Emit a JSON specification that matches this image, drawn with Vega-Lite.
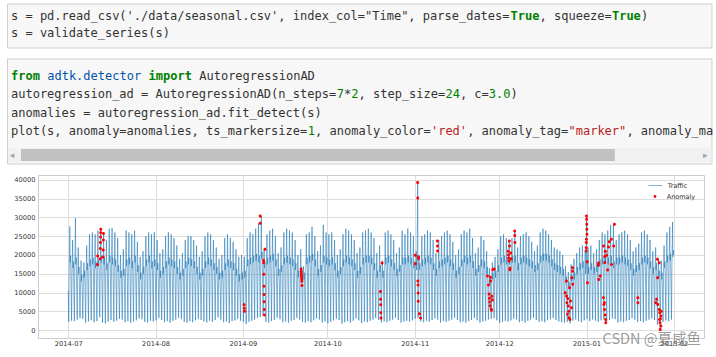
{
"$schema":"https://vega.github.io/schema/vega-lite/v6.json",
"background":"white",
"padding":{"left":6,"top":3,"right":0,"bottom":0},
"spacing":9,
"config":{"font":"DejaVu Sans","view":{"stroke":null}},
"resolve":{"scale":{"x":"independent","y":"independent","color":"independent","shape":"independent"}},
"datasets":{
"box":[{"part":"cell"}],
"cell1":[
{"ln":1,"col":0,"tok":"s = pd.read_csv('./data/seasonal.csv', index_col=\"Time\", parse_dates=","k":"plain"},
{"ln":1,"col":69,"tok":"True","k":"kw"},
{"ln":1,"col":73,"tok":", squeeze=","k":"plain"},
{"ln":1,"col":83,"tok":"True","k":"kw"},
{"ln":1,"col":87,"tok":")","k":"plain"},
{"ln":2,"col":0,"tok":"s = validate_series(s)","k":"plain"}],
"cell2":[
{"ln":1,"col":0,"tok":"from","k":"kw"},
{"ln":1,"col":5,"tok":"adtk.detector","k":"mod"},
{"ln":1,"col":19,"tok":"import","k":"kw"},
{"ln":1,"col":26,"tok":"AutoregressionAD","k":"plain"},
{"ln":2,"col":0,"tok":"autoregression_ad = AutoregressionAD(n_steps=","k":"plain"},
{"ln":2,"col":45,"tok":"7","k":"num"},
{"ln":2,"col":46,"tok":"*","k":"plain"},
{"ln":2,"col":47,"tok":"2","k":"num"},
{"ln":2,"col":48,"tok":", step_size=","k":"plain"},
{"ln":2,"col":60,"tok":"24","k":"num"},
{"ln":2,"col":62,"tok":", c=","k":"plain"},
{"ln":2,"col":66,"tok":"3.0","k":"num"},
{"ln":2,"col":69,"tok":")","k":"plain"},
{"ln":3,"col":0,"tok":"anomalies = autoregression_ad.fit_detect(s)","k":"plain"},
{"ln":4,"col":0,"tok":"plot(s, anomaly=anomalies, ts_markersize=","k":"plain"},
{"ln":4,"col":41,"tok":"1","k":"num"},
{"ln":4,"col":42,"tok":", anomaly_color=","k":"plain"},
{"ln":4,"col":58,"tok":"'red'","k":"str"},
{"ln":4,"col":63,"tok":", anomaly_tag=","k":"plain"},
{"ln":4,"col":77,"tok":"\"marker\"","k":"str"},
{"ln":4,"col":85,"tok":", anomaly_ma","k":"plain"}],
"traffic":[
{"t":"2014-07-01T00:00","v":10500},
{"t":"2014-07-01T04:00","v":2200},{"t":"2014-07-01T08:00","v":16500},{"t":"2014-07-01T10:00","v":20000},{"t":"2014-07-01T13:00","v":27600},{"t":"2014-07-01T16:00","v":18000},{"t":"2014-07-01T20:00","v":19800},
{"t":"2014-07-02T04:00","v":2500},{"t":"2014-07-02T08:00","v":15000},{"t":"2014-07-02T10:00","v":18500},{"t":"2014-07-02T13:00","v":24000},{"t":"2014-07-02T16:00","v":16500},{"t":"2014-07-02T20:00","v":18300},
{"t":"2014-07-03T04:00","v":2400},{"t":"2014-07-03T08:00","v":17500},{"t":"2014-07-03T10:00","v":21000},{"t":"2014-07-03T13:00","v":29800},{"t":"2014-07-03T16:00","v":17500},{"t":"2014-07-03T20:00","v":19300},
{"t":"2014-07-04T04:00","v":2800},{"t":"2014-07-04T08:00","v":13000},{"t":"2014-07-04T10:00","v":16500},{"t":"2014-07-04T13:00","v":22000},{"t":"2014-07-04T16:00","v":15000},{"t":"2014-07-04T20:00","v":16800},
{"t":"2014-07-05T04:00","v":3200},{"t":"2014-07-05T08:00","v":11500},{"t":"2014-07-05T10:00","v":15000},{"t":"2014-07-05T13:00","v":18500},{"t":"2014-07-05T16:00","v":13000},{"t":"2014-07-05T20:00","v":14800},
{"t":"2014-07-06T04:00","v":3000},{"t":"2014-07-06T08:00","v":12000},{"t":"2014-07-06T10:00","v":15500},{"t":"2014-07-06T13:00","v":18000},{"t":"2014-07-06T16:00","v":14000},{"t":"2014-07-06T20:00","v":15800},
{"t":"2014-07-07T04:00","v":2000},{"t":"2014-07-07T08:00","v":14500},{"t":"2014-07-07T10:00","v":18000},{"t":"2014-07-07T13:00","v":22500},{"t":"2014-07-07T16:00","v":16000},{"t":"2014-07-07T20:00","v":17800},
{"t":"2014-07-08T04:00","v":2300},{"t":"2014-07-08T08:00","v":16000},{"t":"2014-07-08T10:00","v":19500},{"t":"2014-07-08T13:00","v":25500},{"t":"2014-07-08T16:00","v":17000},{"t":"2014-07-08T20:00","v":18800},
{"t":"2014-07-09T04:00","v":2600},{"t":"2014-07-09T08:00","v":17000},{"t":"2014-07-09T10:00","v":20500},{"t":"2014-07-09T13:00","v":26000},{"t":"2014-07-09T16:00","v":17500},{"t":"2014-07-09T20:00","v":19300},
{"t":"2014-07-10T04:00","v":2100},{"t":"2014-07-10T08:00","v":15500},{"t":"2014-07-10T10:00","v":19000},{"t":"2014-07-10T13:00","v":25500},{"t":"2014-07-10T16:00","v":16500},{"t":"2014-07-10T20:00","v":18300},
{"t":"2014-07-11T04:00","v":2400},{"t":"2014-07-11T08:00","v":16000},{"t":"2014-07-11T10:00","v":19500},{"t":"2014-07-11T13:00","v":26500},{"t":"2014-07-11T16:00","v":17000},{"t":"2014-07-11T20:00","v":18800},
{"t":"2014-07-12T04:00","v":3400},{"t":"2014-07-12T08:00","v":15000},{"t":"2014-07-12T10:00","v":18500},{"t":"2014-07-12T13:00","v":27000},{"t":"2014-07-12T16:00","v":18000},{"t":"2014-07-12T20:00","v":19800},
{"t":"2014-07-13T04:00","v":2000},{"t":"2014-07-13T08:00","v":14000},{"t":"2014-07-13T10:00","v":17500},{"t":"2014-07-13T13:00","v":26000},{"t":"2014-07-13T16:00","v":17500},{"t":"2014-07-13T20:00","v":19300},
{"t":"2014-07-14T04:00","v":1800},{"t":"2014-07-14T08:00","v":15000},{"t":"2014-07-14T10:00","v":18500},{"t":"2014-07-14T13:00","v":24000},{"t":"2014-07-14T16:00","v":16000},{"t":"2014-07-14T20:00","v":17800},
{"t":"2014-07-15T04:00","v":2300},{"t":"2014-07-15T08:00","v":17000},{"t":"2014-07-15T10:00","v":20500},{"t":"2014-07-15T13:00","v":27000},{"t":"2014-07-15T16:00","v":18000},{"t":"2014-07-15T20:00","v":19800},
{"t":"2014-07-16T04:00","v":2700},{"t":"2014-07-16T08:00","v":16500},{"t":"2014-07-16T10:00","v":20000},{"t":"2014-07-16T13:00","v":27200},{"t":"2014-07-16T16:00","v":17500},{"t":"2014-07-16T20:00","v":19300},
{"t":"2014-07-17T04:00","v":2200},{"t":"2014-07-17T08:00","v":16000},{"t":"2014-07-17T10:00","v":19500},{"t":"2014-07-17T13:00","v":26000},{"t":"2014-07-17T16:00","v":17000},{"t":"2014-07-17T20:00","v":18800},
{"t":"2014-07-18T04:00","v":2500},{"t":"2014-07-18T08:00","v":15500},{"t":"2014-07-18T10:00","v":19000},{"t":"2014-07-18T13:00","v":24500},{"t":"2014-07-18T16:00","v":15500},{"t":"2014-07-18T20:00","v":17300},
{"t":"2014-07-19T04:00","v":3000},{"t":"2014-07-19T08:00","v":12500},{"t":"2014-07-19T10:00","v":16000},{"t":"2014-07-19T13:00","v":20000},{"t":"2014-07-19T16:00","v":14000},{"t":"2014-07-19T20:00","v":15800},
{"t":"2014-07-20T04:00","v":2800},{"t":"2014-07-20T08:00","v":13000},{"t":"2014-07-20T10:00","v":16500},{"t":"2014-07-20T13:00","v":21500},{"t":"2014-07-20T16:00","v":14500},{"t":"2014-07-20T20:00","v":16300},
{"t":"2014-07-21T04:00","v":2100},{"t":"2014-07-21T08:00","v":15500},{"t":"2014-07-21T10:00","v":19000},{"t":"2014-07-21T13:00","v":26500},{"t":"2014-07-21T16:00","v":17000},{"t":"2014-07-21T20:00","v":18800},
{"t":"2014-07-22T04:00","v":2400},{"t":"2014-07-22T08:00","v":16500},{"t":"2014-07-22T10:00","v":20000},{"t":"2014-07-22T13:00","v":26000},{"t":"2014-07-22T16:00","v":17500},{"t":"2014-07-22T20:00","v":19300},
{"t":"2014-07-23T04:00","v":2000},{"t":"2014-07-23T08:00","v":15000},{"t":"2014-07-23T10:00","v":18500},{"t":"2014-07-23T13:00","v":25500},{"t":"2014-07-23T16:00","v":16500},{"t":"2014-07-23T20:00","v":18300},
{"t":"2014-07-24T04:00","v":2300},{"t":"2014-07-24T08:00","v":17000},{"t":"2014-07-24T10:00","v":20500},{"t":"2014-07-24T13:00","v":26500},{"t":"2014-07-24T16:00","v":18000},{"t":"2014-07-24T20:00","v":19800},
{"t":"2014-07-25T04:00","v":2600},{"t":"2014-07-25T08:00","v":14500},{"t":"2014-07-25T10:00","v":18000},{"t":"2014-07-25T13:00","v":23500},{"t":"2014-07-25T16:00","v":15500},{"t":"2014-07-25T20:00","v":17300},
{"t":"2014-07-26T04:00","v":3100},{"t":"2014-07-26T08:00","v":12000},{"t":"2014-07-26T10:00","v":15500},{"t":"2014-07-26T13:00","v":19500},{"t":"2014-07-26T16:00","v":13500},{"t":"2014-07-26T20:00","v":15300},
{"t":"2014-07-27T04:00","v":2900},{"t":"2014-07-27T08:00","v":13000},{"t":"2014-07-27T10:00","v":16500},{"t":"2014-07-27T13:00","v":21000},{"t":"2014-07-27T16:00","v":15000},{"t":"2014-07-27T20:00","v":16800},
{"t":"2014-07-28T04:00","v":2200},{"t":"2014-07-28T08:00","v":15500},{"t":"2014-07-28T10:00","v":19000},{"t":"2014-07-28T13:00","v":25000},{"t":"2014-07-28T16:00","v":17000},{"t":"2014-07-28T20:00","v":18800},
{"t":"2014-07-29T04:00","v":2000},{"t":"2014-07-29T08:00","v":16500},{"t":"2014-07-29T10:00","v":20000},{"t":"2014-07-29T13:00","v":26000},{"t":"2014-07-29T16:00","v":18000},{"t":"2014-07-29T20:00","v":19800},
{"t":"2014-07-30T04:00","v":2500},{"t":"2014-07-30T08:00","v":15500},{"t":"2014-07-30T10:00","v":19000},{"t":"2014-07-30T13:00","v":25500},{"t":"2014-07-30T16:00","v":16500},{"t":"2014-07-30T20:00","v":18300},
{"t":"2014-07-31T04:00","v":2300},{"t":"2014-07-31T08:00","v":16000},{"t":"2014-07-31T10:00","v":19500},{"t":"2014-07-31T13:00","v":26000},{"t":"2014-07-31T16:00","v":17000},{"t":"2014-07-31T20:00","v":18800},
{"t":"2014-08-01T04:00","v":2600},{"t":"2014-08-01T08:00","v":15000},{"t":"2014-08-01T10:00","v":18500},{"t":"2014-08-01T13:00","v":24000},{"t":"2014-08-01T16:00","v":16000},{"t":"2014-08-01T20:00","v":17800},
{"t":"2014-08-02T04:00","v":3200},{"t":"2014-08-02T08:00","v":12500},{"t":"2014-08-02T10:00","v":16000},{"t":"2014-08-02T13:00","v":20500},{"t":"2014-08-02T16:00","v":14000},{"t":"2014-08-02T20:00","v":15800},
{"t":"2014-08-03T04:00","v":2700},{"t":"2014-08-03T08:00","v":13500},{"t":"2014-08-03T10:00","v":17000},{"t":"2014-08-03T13:00","v":21500},{"t":"2014-08-03T16:00","v":15000},{"t":"2014-08-03T20:00","v":16800},
{"t":"2014-08-04T04:00","v":2100},{"t":"2014-08-04T08:00","v":15000},{"t":"2014-08-04T10:00","v":18500},{"t":"2014-08-04T13:00","v":25000},{"t":"2014-08-04T16:00","v":16500},{"t":"2014-08-04T20:00","v":18300},
{"t":"2014-08-05T04:00","v":2400},{"t":"2014-08-05T08:00","v":16500},{"t":"2014-08-05T10:00","v":20000},{"t":"2014-08-05T13:00","v":26000},{"t":"2014-08-05T16:00","v":17500},{"t":"2014-08-05T20:00","v":19300},
{"t":"2014-08-06T04:00","v":2000},{"t":"2014-08-06T08:00","v":16000},{"t":"2014-08-06T10:00","v":19500},{"t":"2014-08-06T13:00","v":25500},{"t":"2014-08-06T16:00","v":17000},{"t":"2014-08-06T20:00","v":18800},
{"t":"2014-08-07T04:00","v":2500},{"t":"2014-08-07T08:00","v":15000},{"t":"2014-08-07T10:00","v":18500},{"t":"2014-08-07T13:00","v":24500},{"t":"2014-08-07T16:00","v":16500},{"t":"2014-08-07T20:00","v":18300},
{"t":"2014-08-08T04:00","v":2800},{"t":"2014-08-08T08:00","v":14000},{"t":"2014-08-08T10:00","v":17500},{"t":"2014-08-08T13:00","v":22500},{"t":"2014-08-08T16:00","v":15000},{"t":"2014-08-08T20:00","v":16800},
{"t":"2014-08-09T04:00","v":3300},{"t":"2014-08-09T08:00","v":12000},{"t":"2014-08-09T10:00","v":15500},{"t":"2014-08-09T13:00","v":19000},{"t":"2014-08-09T16:00","v":13500},{"t":"2014-08-09T20:00","v":15300},
{"t":"2014-08-10T04:00","v":2900},{"t":"2014-08-10T08:00","v":13000},{"t":"2014-08-10T10:00","v":16500},{"t":"2014-08-10T13:00","v":20500},{"t":"2014-08-10T16:00","v":14500},{"t":"2014-08-10T20:00","v":16300},
{"t":"2014-08-11T04:00","v":2200},{"t":"2014-08-11T08:00","v":15000},{"t":"2014-08-11T10:00","v":18500},{"t":"2014-08-11T13:00","v":24000},{"t":"2014-08-11T16:00","v":16500},{"t":"2014-08-11T20:00","v":18300},
{"t":"2014-08-12T04:00","v":2000},{"t":"2014-08-12T08:00","v":16500},{"t":"2014-08-12T10:00","v":20000},{"t":"2014-08-12T13:00","v":25000},{"t":"2014-08-12T16:00","v":17500},{"t":"2014-08-12T20:00","v":19300},
{"t":"2014-08-13T04:00","v":2400},{"t":"2014-08-13T08:00","v":16000},{"t":"2014-08-13T10:00","v":19500},{"t":"2014-08-13T13:00","v":25000},{"t":"2014-08-13T16:00","v":17000},{"t":"2014-08-13T20:00","v":18800},
{"t":"2014-08-14T04:00","v":2100},{"t":"2014-08-14T08:00","v":15500},{"t":"2014-08-14T10:00","v":19000},{"t":"2014-08-14T13:00","v":24000},{"t":"2014-08-14T16:00","v":16500},{"t":"2014-08-14T20:00","v":18300},
{"t":"2014-08-15T04:00","v":2600},{"t":"2014-08-15T08:00","v":14000},{"t":"2014-08-15T10:00","v":17500},{"t":"2014-08-15T13:00","v":22500},{"t":"2014-08-15T16:00","v":15000},{"t":"2014-08-15T20:00","v":16800},
{"t":"2014-08-16T04:00","v":3000},{"t":"2014-08-16T08:00","v":12000},{"t":"2014-08-16T10:00","v":15500},{"t":"2014-08-16T13:00","v":19500},{"t":"2014-08-16T16:00","v":13500},{"t":"2014-08-16T20:00","v":15300},
{"t":"2014-08-17T04:00","v":2700},{"t":"2014-08-17T08:00","v":13000},{"t":"2014-08-17T10:00","v":16500},{"t":"2014-08-17T13:00","v":21000},{"t":"2014-08-17T16:00","v":14500},{"t":"2014-08-17T20:00","v":16300},
{"t":"2014-08-18T04:00","v":2300},{"t":"2014-08-18T08:00","v":15500},{"t":"2014-08-18T10:00","v":19000},{"t":"2014-08-18T13:00","v":25000},{"t":"2014-08-18T16:00","v":16500},{"t":"2014-08-18T20:00","v":18300},
{"t":"2014-08-19T04:00","v":2000},{"t":"2014-08-19T08:00","v":16500},{"t":"2014-08-19T10:00","v":20000},{"t":"2014-08-19T13:00","v":26000},{"t":"2014-08-19T16:00","v":17500},{"t":"2014-08-19T20:00","v":19300},
{"t":"2014-08-20T04:00","v":2500},{"t":"2014-08-20T08:00","v":16000},{"t":"2014-08-20T10:00","v":19500},{"t":"2014-08-20T13:00","v":25500},{"t":"2014-08-20T16:00","v":17000},{"t":"2014-08-20T20:00","v":18800},
{"t":"2014-08-21T04:00","v":2200},{"t":"2014-08-21T08:00","v":15000},{"t":"2014-08-21T10:00","v":18500},{"t":"2014-08-21T13:00","v":24000},{"t":"2014-08-21T16:00","v":16000},{"t":"2014-08-21T20:00","v":17800},
{"t":"2014-08-22T04:00","v":2700},{"t":"2014-08-22T08:00","v":14000},{"t":"2014-08-22T10:00","v":17500},{"t":"2014-08-22T13:00","v":22000},{"t":"2014-08-22T16:00","v":15000},{"t":"2014-08-22T20:00","v":16800},
{"t":"2014-08-23T04:00","v":3400},{"t":"2014-08-23T08:00","v":12000},{"t":"2014-08-23T10:00","v":15500},{"t":"2014-08-23T13:00","v":19000},{"t":"2014-08-23T16:00","v":13500},{"t":"2014-08-23T20:00","v":15300},
{"t":"2014-08-24T04:00","v":2800},{"t":"2014-08-24T08:00","v":12500},{"t":"2014-08-24T10:00","v":16000},{"t":"2014-08-24T13:00","v":20000},{"t":"2014-08-24T16:00","v":14000},{"t":"2014-08-24T20:00","v":15800},
{"t":"2014-08-25T04:00","v":2100},{"t":"2014-08-25T08:00","v":15000},{"t":"2014-08-25T10:00","v":18500},{"t":"2014-08-25T13:00","v":24500},{"t":"2014-08-25T16:00","v":16000},{"t":"2014-08-25T20:00","v":17800},
{"t":"2014-08-26T04:00","v":2300},{"t":"2014-08-26T08:00","v":16000},{"t":"2014-08-26T10:00","v":19500},{"t":"2014-08-26T13:00","v":25500},{"t":"2014-08-26T16:00","v":17000},{"t":"2014-08-26T20:00","v":18800},
{"t":"2014-08-27T04:00","v":1900},{"t":"2014-08-27T08:00","v":15500},{"t":"2014-08-27T10:00","v":19000},{"t":"2014-08-27T13:00","v":24500},{"t":"2014-08-27T16:00","v":16500},{"t":"2014-08-27T20:00","v":18300},
{"t":"2014-08-28T04:00","v":2400},{"t":"2014-08-28T08:00","v":15000},{"t":"2014-08-28T10:00","v":18500},{"t":"2014-08-28T13:00","v":23500},{"t":"2014-08-28T16:00","v":16000},{"t":"2014-08-28T20:00","v":17800},
{"t":"2014-08-29T04:00","v":2600},{"t":"2014-08-29T08:00","v":13500},{"t":"2014-08-29T10:00","v":17000},{"t":"2014-08-29T13:00","v":21500},{"t":"2014-08-29T16:00","v":14500},{"t":"2014-08-29T20:00","v":16300},
{"t":"2014-08-30T04:00","v":3000},{"t":"2014-08-30T08:00","v":11500},{"t":"2014-08-30T10:00","v":15000},{"t":"2014-08-30T13:00","v":19500},{"t":"2014-08-30T16:00","v":13000},{"t":"2014-08-30T20:00","v":14800},
{"t":"2014-08-31T04:00","v":2500},{"t":"2014-08-31T08:00","v":12000},{"t":"2014-08-31T10:00","v":15500},{"t":"2014-08-31T13:00","v":20000},{"t":"2014-08-31T16:00","v":13500},{"t":"2014-08-31T20:00","v":15300},
{"t":"2014-09-01T04:00","v":2200},{"t":"2014-09-01T08:00","v":12500},{"t":"2014-09-01T10:00","v":16000},{"t":"2014-09-01T13:00","v":19500},{"t":"2014-09-01T16:00","v":14000},{"t":"2014-09-01T20:00","v":15800},
{"t":"2014-09-02T04:00","v":1600},{"t":"2014-09-02T08:00","v":16000},{"t":"2014-09-02T10:00","v":19500},{"t":"2014-09-02T13:00","v":24500},{"t":"2014-09-02T16:00","v":17000},{"t":"2014-09-02T20:00","v":18800},
{"t":"2014-09-03T04:00","v":2200},{"t":"2014-09-03T08:00","v":16500},{"t":"2014-09-03T10:00","v":20000},{"t":"2014-09-03T13:00","v":26000},{"t":"2014-09-03T16:00","v":17500},{"t":"2014-09-03T20:00","v":19300},
{"t":"2014-09-04T04:00","v":2500},{"t":"2014-09-04T08:00","v":17000},{"t":"2014-09-04T10:00","v":20500},{"t":"2014-09-04T13:00","v":25500},{"t":"2014-09-04T16:00","v":18000},{"t":"2014-09-04T20:00","v":19800},
{"t":"2014-09-05T04:00","v":2800},{"t":"2014-09-05T08:00","v":17500},{"t":"2014-09-05T10:00","v":21000},{"t":"2014-09-05T13:00","v":27000},{"t":"2014-09-05T16:00","v":18500},{"t":"2014-09-05T20:00","v":20300},
{"t":"2014-09-06T04:00","v":3200},{"t":"2014-09-06T08:00","v":16000},{"t":"2014-09-06T10:00","v":19500},{"t":"2014-09-06T13:00","v":28500},{"t":"2014-09-06T16:00","v":18000},{"t":"2014-09-06T20:00","v":19800},
{"t":"2014-09-07T04:00","v":3500},{"t":"2014-09-07T08:00","v":17000},{"t":"2014-09-07T10:00","v":20500},{"t":"2014-09-07T13:00","v":30400},{"t":"2014-09-07T16:00","v":19000},{"t":"2014-09-07T20:00","v":20800},
{"t":"2014-09-08T04:00","v":3800},{"t":"2014-09-08T08:00","v":15000},{"t":"2014-09-08T10:00","v":18500},{"t":"2014-09-08T13:00","v":21500},{"t":"2014-09-08T16:00","v":16500},{"t":"2014-09-08T20:00","v":18300},
{"t":"2014-09-09T04:00","v":2200},{"t":"2014-09-09T08:00","v":16500},{"t":"2014-09-09T10:00","v":20000},{"t":"2014-09-09T13:00","v":25500},{"t":"2014-09-09T16:00","v":17500},{"t":"2014-09-09T20:00","v":19300},
{"t":"2014-09-10T04:00","v":2000},{"t":"2014-09-10T08:00","v":17000},{"t":"2014-09-10T10:00","v":20500},{"t":"2014-09-10T13:00","v":26500},{"t":"2014-09-10T16:00","v":18000},{"t":"2014-09-10T20:00","v":19800},
{"t":"2014-09-11T04:00","v":2400},{"t":"2014-09-11T08:00","v":17500},{"t":"2014-09-11T10:00","v":21000},{"t":"2014-09-11T13:00","v":27000},{"t":"2014-09-11T16:00","v":18500},{"t":"2014-09-11T20:00","v":20300},
{"t":"2014-09-12T04:00","v":2700},{"t":"2014-09-12T08:00","v":16000},{"t":"2014-09-12T10:00","v":19500},{"t":"2014-09-12T13:00","v":25000},{"t":"2014-09-12T16:00","v":17000},{"t":"2014-09-12T20:00","v":18800},
{"t":"2014-09-13T04:00","v":3300},{"t":"2014-09-13T08:00","v":13000},{"t":"2014-09-13T10:00","v":16500},{"t":"2014-09-13T13:00","v":20500},{"t":"2014-09-13T16:00","v":14500},{"t":"2014-09-13T20:00","v":16300},
{"t":"2014-09-14T04:00","v":2900},{"t":"2014-09-14T08:00","v":14000},{"t":"2014-09-14T10:00","v":17500},{"t":"2014-09-14T13:00","v":22000},{"t":"2014-09-14T16:00","v":15500},{"t":"2014-09-14T20:00","v":17300},
{"t":"2014-09-15T04:00","v":2100},{"t":"2014-09-15T08:00","v":16500},{"t":"2014-09-15T10:00","v":20000},{"t":"2014-09-15T13:00","v":26000},{"t":"2014-09-15T16:00","v":17500},{"t":"2014-09-15T20:00","v":19300},
{"t":"2014-09-16T04:00","v":2300},{"t":"2014-09-16T08:00","v":17000},{"t":"2014-09-16T10:00","v":20500},{"t":"2014-09-16T13:00","v":27000},{"t":"2014-09-16T16:00","v":18000},{"t":"2014-09-16T20:00","v":19800},
{"t":"2014-09-17T04:00","v":2000},{"t":"2014-09-17T08:00","v":16500},{"t":"2014-09-17T10:00","v":20000},{"t":"2014-09-17T13:00","v":26500},{"t":"2014-09-17T16:00","v":17500},{"t":"2014-09-17T20:00","v":19300},
{"t":"2014-09-18T04:00","v":2500},{"t":"2014-09-18T08:00","v":16000},{"t":"2014-09-18T10:00","v":19500},{"t":"2014-09-18T13:00","v":26000},{"t":"2014-09-18T16:00","v":17000},{"t":"2014-09-18T20:00","v":18800},
{"t":"2014-09-19T04:00","v":2700},{"t":"2014-09-19T08:00","v":15000},{"t":"2014-09-19T10:00","v":18500},{"t":"2014-09-19T13:00","v":24000},{"t":"2014-09-19T16:00","v":16000},{"t":"2014-09-19T20:00","v":17800},
{"t":"2014-09-20T04:00","v":3200},{"t":"2014-09-20T08:00","v":12500},{"t":"2014-09-20T10:00","v":16000},{"t":"2014-09-20T13:00","v":20000},{"t":"2014-09-20T16:00","v":14000},{"t":"2014-09-20T20:00","v":15800},
{"t":"2014-09-21T04:00","v":2800},{"t":"2014-09-21T08:00","v":13500},{"t":"2014-09-21T10:00","v":17000},{"t":"2014-09-21T13:00","v":21500},{"t":"2014-09-21T16:00","v":15000},{"t":"2014-09-21T20:00","v":16800},
{"t":"2014-09-22T04:00","v":2200},{"t":"2014-09-22T08:00","v":12000},{"t":"2014-09-22T10:00","v":15500},{"t":"2014-09-22T13:00","v":17000},{"t":"2014-09-22T16:00","v":13500},{"t":"2014-09-22T20:00","v":15300},
{"t":"2014-09-23T04:00","v":2000},{"t":"2014-09-23T08:00","v":16500},{"t":"2014-09-23T10:00","v":20000},{"t":"2014-09-23T13:00","v":25500},{"t":"2014-09-23T16:00","v":17500},{"t":"2014-09-23T20:00","v":19300},
{"t":"2014-09-24T04:00","v":2400},{"t":"2014-09-24T08:00","v":17000},{"t":"2014-09-24T10:00","v":20500},{"t":"2014-09-24T13:00","v":26000},{"t":"2014-09-24T16:00","v":18000},{"t":"2014-09-24T20:00","v":19800},
{"t":"2014-09-25T04:00","v":2100},{"t":"2014-09-25T08:00","v":17500},{"t":"2014-09-25T10:00","v":21000},{"t":"2014-09-25T13:00","v":27500},{"t":"2014-09-25T16:00","v":18500},{"t":"2014-09-25T20:00","v":20300},
{"t":"2014-09-26T04:00","v":2600},{"t":"2014-09-26T08:00","v":16000},{"t":"2014-09-26T10:00","v":19500},{"t":"2014-09-26T13:00","v":25000},{"t":"2014-09-26T16:00","v":17000},{"t":"2014-09-26T20:00","v":18800},
{"t":"2014-09-27T04:00","v":3100},{"t":"2014-09-27T08:00","v":13000},{"t":"2014-09-27T10:00","v":16500},{"t":"2014-09-27T13:00","v":21000},{"t":"2014-09-27T16:00","v":14500},{"t":"2014-09-27T20:00","v":16300},
{"t":"2014-09-28T04:00","v":2800},{"t":"2014-09-28T08:00","v":14000},{"t":"2014-09-28T10:00","v":17500},{"t":"2014-09-28T13:00","v":22500},{"t":"2014-09-28T16:00","v":15500},{"t":"2014-09-28T20:00","v":17300},
{"t":"2014-09-29T04:00","v":2000},{"t":"2014-09-29T08:00","v":17000},{"t":"2014-09-29T10:00","v":20500},{"t":"2014-09-29T13:00","v":28000},{"t":"2014-09-29T16:00","v":18000},{"t":"2014-09-29T20:00","v":19800},
{"t":"2014-09-30T04:00","v":2300},{"t":"2014-09-30T08:00","v":16500},{"t":"2014-09-30T10:00","v":20000},{"t":"2014-09-30T13:00","v":26000},{"t":"2014-09-30T16:00","v":17500},{"t":"2014-09-30T20:00","v":19300},
{"t":"2014-10-01T04:00","v":1800},{"t":"2014-10-01T08:00","v":16000},{"t":"2014-10-01T10:00","v":19500},{"t":"2014-10-01T13:00","v":25500},{"t":"2014-10-01T16:00","v":17000},{"t":"2014-10-01T20:00","v":18800},
{"t":"2014-10-02T04:00","v":2200},{"t":"2014-10-02T08:00","v":16500},{"t":"2014-10-02T10:00","v":20000},{"t":"2014-10-02T13:00","v":26000},{"t":"2014-10-02T16:00","v":17500},{"t":"2014-10-02T20:00","v":19300},
{"t":"2014-10-03T04:00","v":2600},{"t":"2014-10-03T08:00","v":15000},{"t":"2014-10-03T10:00","v":18500},{"t":"2014-10-03T13:00","v":24000},{"t":"2014-10-03T16:00","v":16000},{"t":"2014-10-03T20:00","v":17800},
{"t":"2014-10-04T04:00","v":3000},{"t":"2014-10-04T08:00","v":12500},{"t":"2014-10-04T10:00","v":16000},{"t":"2014-10-04T13:00","v":20000},{"t":"2014-10-04T16:00","v":14000},{"t":"2014-10-04T20:00","v":15800},
{"t":"2014-10-05T04:00","v":2700},{"t":"2014-10-05T08:00","v":13500},{"t":"2014-10-05T10:00","v":17000},{"t":"2014-10-05T13:00","v":21500},{"t":"2014-10-05T16:00","v":15000},{"t":"2014-10-05T20:00","v":16800},
{"t":"2014-10-06T04:00","v":1700},{"t":"2014-10-06T08:00","v":16000},{"t":"2014-10-06T10:00","v":19500},{"t":"2014-10-06T13:00","v":25500},{"t":"2014-10-06T16:00","v":17000},{"t":"2014-10-06T20:00","v":18800},
{"t":"2014-10-07T04:00","v":2100},{"t":"2014-10-07T08:00","v":17000},{"t":"2014-10-07T10:00","v":20500},{"t":"2014-10-07T13:00","v":27000},{"t":"2014-10-07T16:00","v":18000},{"t":"2014-10-07T20:00","v":19800},
{"t":"2014-10-08T04:00","v":2400},{"t":"2014-10-08T08:00","v":16500},{"t":"2014-10-08T10:00","v":20000},{"t":"2014-10-08T13:00","v":26500},{"t":"2014-10-08T16:00","v":17500},{"t":"2014-10-08T20:00","v":19300},
{"t":"2014-10-09T04:00","v":2000},{"t":"2014-10-09T08:00","v":16000},{"t":"2014-10-09T10:00","v":19500},{"t":"2014-10-09T13:00","v":25500},{"t":"2014-10-09T16:00","v":17000},{"t":"2014-10-09T20:00","v":18800},
{"t":"2014-10-10T04:00","v":2500},{"t":"2014-10-10T08:00","v":15000},{"t":"2014-10-10T10:00","v":18500},{"t":"2014-10-10T13:00","v":24000},{"t":"2014-10-10T16:00","v":16000},{"t":"2014-10-10T20:00","v":17800},
{"t":"2014-10-11T04:00","v":3100},{"t":"2014-10-11T08:00","v":12500},{"t":"2014-10-11T10:00","v":16000},{"t":"2014-10-11T13:00","v":20500},{"t":"2014-10-11T16:00","v":14000},{"t":"2014-10-11T20:00","v":15800},
{"t":"2014-10-12T04:00","v":2600},{"t":"2014-10-12T08:00","v":13500},{"t":"2014-10-12T10:00","v":17000},{"t":"2014-10-12T13:00","v":22000},{"t":"2014-10-12T16:00","v":15000},{"t":"2014-10-12T20:00","v":16800},
{"t":"2014-10-13T04:00","v":1900},{"t":"2014-10-13T08:00","v":16500},{"t":"2014-10-13T10:00","v":20000},{"t":"2014-10-13T13:00","v":26000},{"t":"2014-10-13T16:00","v":17500},{"t":"2014-10-13T20:00","v":19300},
{"t":"2014-10-14T04:00","v":2300},{"t":"2014-10-14T08:00","v":17000},{"t":"2014-10-14T10:00","v":20500},{"t":"2014-10-14T13:00","v":26500},{"t":"2014-10-14T16:00","v":18000},{"t":"2014-10-14T20:00","v":19800},
{"t":"2014-10-15T04:00","v":2100},{"t":"2014-10-15T08:00","v":17000},{"t":"2014-10-15T10:00","v":20500},{"t":"2014-10-15T13:00","v":27000},{"t":"2014-10-15T16:00","v":18000},{"t":"2014-10-15T20:00","v":19800},
{"t":"2014-10-16T04:00","v":2500},{"t":"2014-10-16T08:00","v":16500},{"t":"2014-10-16T10:00","v":20000},{"t":"2014-10-16T13:00","v":26000},{"t":"2014-10-16T16:00","v":17500},{"t":"2014-10-16T20:00","v":19300},
{"t":"2014-10-17T04:00","v":2800},{"t":"2014-10-17T08:00","v":15000},{"t":"2014-10-17T10:00","v":18500},{"t":"2014-10-17T13:00","v":24500},{"t":"2014-10-17T16:00","v":16000},{"t":"2014-10-17T20:00","v":17800},
{"t":"2014-10-18T04:00","v":3200},{"t":"2014-10-18T08:00","v":12500},{"t":"2014-10-18T10:00","v":16000},{"t":"2014-10-18T13:00","v":20500},{"t":"2014-10-18T16:00","v":14000},{"t":"2014-10-18T20:00","v":15800},
{"t":"2014-10-19T04:00","v":2700},{"t":"2014-10-19T08:00","v":14000},{"t":"2014-10-19T10:00","v":17500},{"t":"2014-10-19T13:00","v":22500},{"t":"2014-10-19T16:00","v":15500},{"t":"2014-10-19T20:00","v":17300},
{"t":"2014-10-20T04:00","v":2000},{"t":"2014-10-20T08:00","v":13000},{"t":"2014-10-20T10:00","v":16500},{"t":"2014-10-20T13:00","v":18500},{"t":"2014-10-20T16:00","v":14000},{"t":"2014-10-20T20:00","v":15800},
{"t":"2014-10-21T04:00","v":2300},{"t":"2014-10-21T08:00","v":16500},{"t":"2014-10-21T10:00","v":20000},{"t":"2014-10-21T13:00","v":26000},{"t":"2014-10-21T16:00","v":17500},{"t":"2014-10-21T20:00","v":19300},
{"t":"2014-10-22T04:00","v":2100},{"t":"2014-10-22T08:00","v":17000},{"t":"2014-10-22T10:00","v":20500},{"t":"2014-10-22T13:00","v":26500},{"t":"2014-10-22T16:00","v":18000},{"t":"2014-10-22T20:00","v":19800},
{"t":"2014-10-23T04:00","v":2500},{"t":"2014-10-23T08:00","v":16000},{"t":"2014-10-23T10:00","v":19500},{"t":"2014-10-23T13:00","v":25500},{"t":"2014-10-23T16:00","v":17000},{"t":"2014-10-23T20:00","v":18800},
{"t":"2014-10-24T04:00","v":2800},{"t":"2014-10-24T08:00","v":15000},{"t":"2014-10-24T10:00","v":18500},{"t":"2014-10-24T13:00","v":24000},{"t":"2014-10-24T16:00","v":16000},{"t":"2014-10-24T20:00","v":17800},
{"t":"2014-10-25T04:00","v":3300},{"t":"2014-10-25T08:00","v":13000},{"t":"2014-10-25T10:00","v":16500},{"t":"2014-10-25T13:00","v":20500},{"t":"2014-10-25T16:00","v":14500},{"t":"2014-10-25T20:00","v":16300},
{"t":"2014-10-26T04:00","v":2700},{"t":"2014-10-26T08:00","v":14000},{"t":"2014-10-26T10:00","v":17500},{"t":"2014-10-26T13:00","v":22000},{"t":"2014-10-26T16:00","v":15500},{"t":"2014-10-26T20:00","v":17300},
{"t":"2014-10-27T04:00","v":2000},{"t":"2014-10-27T08:00","v":16500},{"t":"2014-10-27T10:00","v":20000},{"t":"2014-10-27T13:00","v":26500},{"t":"2014-10-27T16:00","v":17500},{"t":"2014-10-27T20:00","v":19300},
{"t":"2014-10-28T04:00","v":2300},{"t":"2014-10-28T08:00","v":16500},{"t":"2014-10-28T10:00","v":20000},{"t":"2014-10-28T13:00","v":25500},{"t":"2014-10-28T16:00","v":17500},{"t":"2014-10-28T20:00","v":19300},
{"t":"2014-10-29T04:00","v":2500},{"t":"2014-10-29T08:00","v":17000},{"t":"2014-10-29T10:00","v":20500},{"t":"2014-10-29T13:00","v":27000},{"t":"2014-10-29T16:00","v":18000},{"t":"2014-10-29T20:00","v":19800},
{"t":"2014-10-30T04:00","v":2200},{"t":"2014-10-30T08:00","v":16500},{"t":"2014-10-30T10:00","v":20000},{"t":"2014-10-30T13:00","v":26000},{"t":"2014-10-30T16:00","v":17500},{"t":"2014-10-30T20:00","v":19300},
{"t":"2014-10-31T04:00","v":2600},{"t":"2014-10-31T08:00","v":15500},{"t":"2014-10-31T10:00","v":19000},{"t":"2014-10-31T13:00","v":25000},{"t":"2014-10-31T16:00","v":16500},{"t":"2014-10-31T20:00","v":18300},
{"t":"2014-11-01T04:00","v":3000},{"t":"2014-11-01T08:00","v":14000},{"t":"2014-11-01T10:00","v":17500},{"t":"2014-11-01T13:00","v":21000},{"t":"2014-11-01T16:00","v":16000},{"t":"2014-11-01T20:00","v":17800},
{"t":"2014-11-02T01:00","v":39300},{"t":"2014-11-02T02:00","v":35200},
{"t":"2014-11-02T04:00","v":3200},{"t":"2014-11-02T08:00","v":14500},{"t":"2014-11-02T10:00","v":18000},{"t":"2014-11-02T13:00","v":20000},{"t":"2014-11-02T16:00","v":16000},{"t":"2014-11-02T20:00","v":17800},
{"t":"2014-11-03T04:00","v":2300},{"t":"2014-11-03T08:00","v":16000},{"t":"2014-11-03T10:00","v":19500},{"t":"2014-11-03T13:00","v":25000},{"t":"2014-11-03T16:00","v":17000},{"t":"2014-11-03T20:00","v":18800},
{"t":"2014-11-04T04:00","v":2100},{"t":"2014-11-04T08:00","v":16500},{"t":"2014-11-04T10:00","v":20000},{"t":"2014-11-04T13:00","v":25500},{"t":"2014-11-04T16:00","v":17500},{"t":"2014-11-04T20:00","v":19300},
{"t":"2014-11-05T04:00","v":2500},{"t":"2014-11-05T08:00","v":17000},{"t":"2014-11-05T10:00","v":20500},{"t":"2014-11-05T13:00","v":26500},{"t":"2014-11-05T16:00","v":18000},{"t":"2014-11-05T20:00","v":19800},
{"t":"2014-11-06T04:00","v":2200},{"t":"2014-11-06T08:00","v":16500},{"t":"2014-11-06T10:00","v":20000},{"t":"2014-11-06T13:00","v":26000},{"t":"2014-11-06T16:00","v":17500},{"t":"2014-11-06T20:00","v":19300},
{"t":"2014-11-07T04:00","v":2700},{"t":"2014-11-07T08:00","v":15000},{"t":"2014-11-07T10:00","v":18500},{"t":"2014-11-07T13:00","v":24000},{"t":"2014-11-07T16:00","v":16000},{"t":"2014-11-07T20:00","v":17800},
{"t":"2014-11-08T04:00","v":3100},{"t":"2014-11-08T08:00","v":13000},{"t":"2014-11-08T10:00","v":16500},{"t":"2014-11-08T13:00","v":20500},{"t":"2014-11-08T16:00","v":14500},{"t":"2014-11-08T20:00","v":16300},
{"t":"2014-11-09T04:00","v":2800},{"t":"2014-11-09T08:00","v":15000},{"t":"2014-11-09T10:00","v":18500},{"t":"2014-11-09T13:00","v":24000},{"t":"2014-11-09T16:00","v":16500},{"t":"2014-11-09T20:00","v":18300},
{"t":"2014-11-10T04:00","v":2000},{"t":"2014-11-10T08:00","v":16000},{"t":"2014-11-10T10:00","v":19500},{"t":"2014-11-10T13:00","v":25000},{"t":"2014-11-10T16:00","v":17000},{"t":"2014-11-10T20:00","v":18800},
{"t":"2014-11-11T04:00","v":2400},{"t":"2014-11-11T08:00","v":16500},{"t":"2014-11-11T10:00","v":20000},{"t":"2014-11-11T13:00","v":26000},{"t":"2014-11-11T16:00","v":17500},{"t":"2014-11-11T20:00","v":19300},
{"t":"2014-11-12T04:00","v":2200},{"t":"2014-11-12T08:00","v":17000},{"t":"2014-11-12T10:00","v":20500},{"t":"2014-11-12T13:00","v":26500},{"t":"2014-11-12T16:00","v":18000},{"t":"2014-11-12T20:00","v":19800},
{"t":"2014-11-13T04:00","v":2500},{"t":"2014-11-13T08:00","v":16000},{"t":"2014-11-13T10:00","v":19500},{"t":"2014-11-13T13:00","v":25500},{"t":"2014-11-13T16:00","v":17000},{"t":"2014-11-13T20:00","v":18800},
{"t":"2014-11-14T04:00","v":2800},{"t":"2014-11-14T08:00","v":15000},{"t":"2014-11-14T10:00","v":18500},{"t":"2014-11-14T13:00","v":23500},{"t":"2014-11-14T16:00","v":16000},{"t":"2014-11-14T20:00","v":17800},
{"t":"2014-11-15T04:00","v":3300},{"t":"2014-11-15T08:00","v":12500},{"t":"2014-11-15T10:00","v":16000},{"t":"2014-11-15T13:00","v":20000},{"t":"2014-11-15T16:00","v":14000},{"t":"2014-11-15T20:00","v":15800},
{"t":"2014-11-16T04:00","v":2700},{"t":"2014-11-16T08:00","v":13500},{"t":"2014-11-16T10:00","v":17000},{"t":"2014-11-16T13:00","v":21500},{"t":"2014-11-16T16:00","v":15000},{"t":"2014-11-16T20:00","v":16800},
{"t":"2014-11-17T04:00","v":2100},{"t":"2014-11-17T08:00","v":16000},{"t":"2014-11-17T10:00","v":19500},{"t":"2014-11-17T13:00","v":25500},{"t":"2014-11-17T16:00","v":17000},{"t":"2014-11-17T20:00","v":18800},
{"t":"2014-11-18T04:00","v":2300},{"t":"2014-11-18T08:00","v":17000},{"t":"2014-11-18T10:00","v":20500},{"t":"2014-11-18T13:00","v":26500},{"t":"2014-11-18T16:00","v":18000},{"t":"2014-11-18T20:00","v":19800},
{"t":"2014-11-19T04:00","v":2000},{"t":"2014-11-19T08:00","v":16500},{"t":"2014-11-19T10:00","v":20000},{"t":"2014-11-19T13:00","v":26000},{"t":"2014-11-19T16:00","v":17500},{"t":"2014-11-19T20:00","v":19300},
{"t":"2014-11-20T04:00","v":2400},{"t":"2014-11-20T08:00","v":17000},{"t":"2014-11-20T10:00","v":20500},{"t":"2014-11-20T13:00","v":27000},{"t":"2014-11-20T16:00","v":18000},{"t":"2014-11-20T20:00","v":19800},
{"t":"2014-11-21T04:00","v":2700},{"t":"2014-11-21T08:00","v":15500},{"t":"2014-11-21T10:00","v":19000},{"t":"2014-11-21T13:00","v":24500},{"t":"2014-11-21T16:00","v":16500},{"t":"2014-11-21T20:00","v":18300},
{"t":"2014-11-22T04:00","v":3200},{"t":"2014-11-22T08:00","v":13000},{"t":"2014-11-22T10:00","v":16500},{"t":"2014-11-22T13:00","v":20500},{"t":"2014-11-22T16:00","v":14500},{"t":"2014-11-22T20:00","v":16300},
{"t":"2014-11-23T04:00","v":2600},{"t":"2014-11-23T08:00","v":14000},{"t":"2014-11-23T10:00","v":17500},{"t":"2014-11-23T13:00","v":22000},{"t":"2014-11-23T16:00","v":15500},{"t":"2014-11-23T20:00","v":17300},
{"t":"2014-11-24T04:00","v":2000},{"t":"2014-11-24T08:00","v":16000},{"t":"2014-11-24T10:00","v":19500},{"t":"2014-11-24T13:00","v":25000},{"t":"2014-11-24T16:00","v":17000},{"t":"2014-11-24T20:00","v":18800},
{"t":"2014-11-25T04:00","v":2300},{"t":"2014-11-25T08:00","v":15500},{"t":"2014-11-25T10:00","v":19000},{"t":"2014-11-25T13:00","v":24000},{"t":"2014-11-25T16:00","v":16500},{"t":"2014-11-25T20:00","v":18300},
{"t":"2014-11-26T04:00","v":2500},{"t":"2014-11-26T08:00","v":14000},{"t":"2014-11-26T10:00","v":17500},{"t":"2014-11-26T13:00","v":21000},{"t":"2014-11-26T16:00","v":15000},{"t":"2014-11-26T20:00","v":16800},
{"t":"2014-11-27T04:00","v":2800},{"t":"2014-11-27T08:00","v":10000},{"t":"2014-11-27T10:00","v":13500},{"t":"2014-11-27T13:00","v":16500},{"t":"2014-11-27T16:00","v":12000},{"t":"2014-11-27T20:00","v":13800},
{"t":"2014-11-28T04:00","v":3000},{"t":"2014-11-28T08:00","v":11500},{"t":"2014-11-28T10:00","v":15000},{"t":"2014-11-28T13:00","v":18000},{"t":"2014-11-28T16:00","v":13500},{"t":"2014-11-28T20:00","v":15300},
{"t":"2014-11-29T04:00","v":3200},{"t":"2014-11-29T08:00","v":12500},{"t":"2014-11-29T10:00","v":16000},{"t":"2014-11-29T13:00","v":19500},{"t":"2014-11-29T16:00","v":14000},{"t":"2014-11-29T20:00","v":15800},
{"t":"2014-11-30T04:00","v":2600},{"t":"2014-11-30T08:00","v":14000},{"t":"2014-11-30T10:00","v":17500},{"t":"2014-11-30T13:00","v":21500},{"t":"2014-11-30T16:00","v":15500},{"t":"2014-11-30T20:00","v":17300},
{"t":"2014-12-01T04:00","v":1900},{"t":"2014-12-01T08:00","v":16500},{"t":"2014-12-01T10:00","v":20000},{"t":"2014-12-01T13:00","v":25000},{"t":"2014-12-01T16:00","v":17500},{"t":"2014-12-01T20:00","v":19300},
{"t":"2014-12-02T04:00","v":2200},{"t":"2014-12-02T08:00","v":17000},{"t":"2014-12-02T10:00","v":20500},{"t":"2014-12-02T13:00","v":25500},{"t":"2014-12-02T16:00","v":18000},{"t":"2014-12-02T20:00","v":19800},
{"t":"2014-12-03T04:00","v":2500},{"t":"2014-12-03T08:00","v":16500},{"t":"2014-12-03T10:00","v":20000},{"t":"2014-12-03T13:00","v":24500},{"t":"2014-12-03T16:00","v":17500},{"t":"2014-12-03T20:00","v":19300},
{"t":"2014-12-04T04:00","v":2300},{"t":"2014-12-04T08:00","v":16500},{"t":"2014-12-04T10:00","v":20000},{"t":"2014-12-04T13:00","v":23500},{"t":"2014-12-04T16:00","v":17500},{"t":"2014-12-04T20:00","v":19300},
{"t":"2014-12-05T04:00","v":2600},{"t":"2014-12-05T08:00","v":17000},{"t":"2014-12-05T10:00","v":20500},{"t":"2014-12-05T13:00","v":24500},{"t":"2014-12-05T16:00","v":18000},{"t":"2014-12-05T20:00","v":19800},
{"t":"2014-12-06T04:00","v":3000},{"t":"2014-12-06T08:00","v":16000},{"t":"2014-12-06T10:00","v":19500},{"t":"2014-12-06T13:00","v":26500},{"t":"2014-12-06T16:00","v":18000},{"t":"2014-12-06T20:00","v":19800},
{"t":"2014-12-07T04:00","v":2800},{"t":"2014-12-07T08:00","v":14500},{"t":"2014-12-07T10:00","v":18000},{"t":"2014-12-07T13:00","v":22000},{"t":"2014-12-07T16:00","v":16000},{"t":"2014-12-07T20:00","v":17800},
{"t":"2014-12-08T04:00","v":2100},{"t":"2014-12-08T08:00","v":16500},{"t":"2014-12-08T10:00","v":20000},{"t":"2014-12-08T13:00","v":25000},{"t":"2014-12-08T16:00","v":17500},{"t":"2014-12-08T20:00","v":19300},
{"t":"2014-12-09T04:00","v":2400},{"t":"2014-12-09T08:00","v":17000},{"t":"2014-12-09T10:00","v":20500},{"t":"2014-12-09T13:00","v":25500},{"t":"2014-12-09T16:00","v":18000},{"t":"2014-12-09T20:00","v":19800},
{"t":"2014-12-10T04:00","v":2000},{"t":"2014-12-10T08:00","v":16500},{"t":"2014-12-10T10:00","v":20000},{"t":"2014-12-10T13:00","v":26000},{"t":"2014-12-10T16:00","v":17500},{"t":"2014-12-10T20:00","v":19300},
{"t":"2014-12-11T04:00","v":2500},{"t":"2014-12-11T08:00","v":16000},{"t":"2014-12-11T10:00","v":19500},{"t":"2014-12-11T13:00","v":25000},{"t":"2014-12-11T16:00","v":17000},{"t":"2014-12-11T20:00","v":18800},
{"t":"2014-12-12T04:00","v":2800},{"t":"2014-12-12T08:00","v":15500},{"t":"2014-12-12T10:00","v":19000},{"t":"2014-12-12T13:00","v":23500},{"t":"2014-12-12T16:00","v":16500},{"t":"2014-12-12T20:00","v":18300},
{"t":"2014-12-13T04:00","v":3300},{"t":"2014-12-13T08:00","v":14000},{"t":"2014-12-13T10:00","v":17500},{"t":"2014-12-13T13:00","v":21000},{"t":"2014-12-13T16:00","v":15500},{"t":"2014-12-13T20:00","v":17300},
{"t":"2014-12-14T04:00","v":2700},{"t":"2014-12-14T08:00","v":14500},{"t":"2014-12-14T10:00","v":18000},{"t":"2014-12-14T13:00","v":22500},{"t":"2014-12-14T16:00","v":16000},{"t":"2014-12-14T20:00","v":17800},
{"t":"2014-12-15T04:00","v":2200},{"t":"2014-12-15T08:00","v":17000},{"t":"2014-12-15T10:00","v":20500},{"t":"2014-12-15T13:00","v":26000},{"t":"2014-12-15T16:00","v":18000},{"t":"2014-12-15T20:00","v":19800},
{"t":"2014-12-16T04:00","v":2400},{"t":"2014-12-16T08:00","v":17500},{"t":"2014-12-16T10:00","v":21000},{"t":"2014-12-16T13:00","v":27000},{"t":"2014-12-16T16:00","v":18500},{"t":"2014-12-16T20:00","v":20300},
{"t":"2014-12-17T04:00","v":2100},{"t":"2014-12-17T08:00","v":17500},{"t":"2014-12-17T10:00","v":21000},{"t":"2014-12-17T13:00","v":26500},{"t":"2014-12-17T16:00","v":18500},{"t":"2014-12-17T20:00","v":20300},
{"t":"2014-12-18T04:00","v":2600},{"t":"2014-12-18T08:00","v":17000},{"t":"2014-12-18T10:00","v":20500},{"t":"2014-12-18T13:00","v":25500},{"t":"2014-12-18T16:00","v":18000},{"t":"2014-12-18T20:00","v":19800},
{"t":"2014-12-19T04:00","v":2900},{"t":"2014-12-19T08:00","v":16000},{"t":"2014-12-19T10:00","v":19500},{"t":"2014-12-19T13:00","v":24000},{"t":"2014-12-19T16:00","v":17000},{"t":"2014-12-19T20:00","v":18800},
{"t":"2014-12-20T04:00","v":3200},{"t":"2014-12-20T08:00","v":15000},{"t":"2014-12-20T10:00","v":18500},{"t":"2014-12-20T13:00","v":22000},{"t":"2014-12-20T16:00","v":16000},{"t":"2014-12-20T20:00","v":17800},
{"t":"2014-12-21T04:00","v":2700},{"t":"2014-12-21T08:00","v":14500},{"t":"2014-12-21T10:00","v":18000},{"t":"2014-12-21T13:00","v":21500},{"t":"2014-12-21T16:00","v":15500},{"t":"2014-12-21T20:00","v":17300},
{"t":"2014-12-22T04:00","v":2300},{"t":"2014-12-22T08:00","v":14000},{"t":"2014-12-22T10:00","v":17500},{"t":"2014-12-22T13:00","v":21000},{"t":"2014-12-22T16:00","v":15000},{"t":"2014-12-22T20:00","v":16800},
{"t":"2014-12-23T04:00","v":2100},{"t":"2014-12-23T08:00","v":13500},{"t":"2014-12-23T10:00","v":17000},{"t":"2014-12-23T13:00","v":20000},{"t":"2014-12-23T16:00","v":14500},{"t":"2014-12-23T20:00","v":16300},
{"t":"2014-12-24T04:00","v":2000},{"t":"2014-12-24T08:00","v":11500},{"t":"2014-12-24T10:00","v":15000},{"t":"2014-12-24T13:00","v":17000},{"t":"2014-12-24T16:00","v":12500},{"t":"2014-12-24T20:00","v":14300},
{"t":"2014-12-25T04:00","v":2200},{"t":"2014-12-25T08:00","v":9500},{"t":"2014-12-25T10:00","v":13000},{"t":"2014-12-25T13:00","v":15500},{"t":"2014-12-25T16:00","v":11000},{"t":"2014-12-25T20:00","v":12800},
{"t":"2014-12-26T04:00","v":1800},{"t":"2014-12-26T08:00","v":12000},{"t":"2014-12-26T10:00","v":15500},{"t":"2014-12-26T13:00","v":17500},{"t":"2014-12-26T16:00","v":13000},{"t":"2014-12-26T20:00","v":14800},
{"t":"2014-12-27T04:00","v":2500},{"t":"2014-12-27T08:00","v":12500},{"t":"2014-12-27T10:00","v":16000},{"t":"2014-12-27T13:00","v":19000},{"t":"2014-12-27T16:00","v":13500},{"t":"2014-12-27T20:00","v":15300},
{"t":"2014-12-28T04:00","v":2800},{"t":"2014-12-28T08:00","v":14000},{"t":"2014-12-28T10:00","v":17500},{"t":"2014-12-28T13:00","v":20500},{"t":"2014-12-28T16:00","v":15000},{"t":"2014-12-28T20:00","v":16800},
{"t":"2014-12-29T04:00","v":2400},{"t":"2014-12-29T08:00","v":15000},{"t":"2014-12-29T10:00","v":18500},{"t":"2014-12-29T13:00","v":22000},{"t":"2014-12-29T16:00","v":16000},{"t":"2014-12-29T20:00","v":17800},
{"t":"2014-12-30T04:00","v":2100},{"t":"2014-12-30T08:00","v":15500},{"t":"2014-12-30T10:00","v":19000},{"t":"2014-12-30T13:00","v":22500},{"t":"2014-12-30T16:00","v":16500},{"t":"2014-12-30T20:00","v":18300},
{"t":"2014-12-31T04:00","v":2600},{"t":"2014-12-31T08:00","v":14000},{"t":"2014-12-31T10:00","v":17500},{"t":"2014-12-31T13:00","v":21000},{"t":"2014-12-31T16:00","v":15000},{"t":"2014-12-31T20:00","v":16800},
{"t":"2015-01-01T00:00","v":30400},
{"t":"2015-01-01T04:00","v":3000},{"t":"2015-01-01T08:00","v":13500},{"t":"2015-01-01T10:00","v":17000},{"t":"2015-01-01T13:00","v":22000},{"t":"2015-01-01T16:00","v":15000},{"t":"2015-01-01T20:00","v":16800},
{"t":"2015-01-02T04:00","v":2400},{"t":"2015-01-02T08:00","v":15000},{"t":"2015-01-02T10:00","v":18500},{"t":"2015-01-02T13:00","v":22500},{"t":"2015-01-02T16:00","v":16000},{"t":"2015-01-02T20:00","v":17800},
{"t":"2015-01-03T04:00","v":2800},{"t":"2015-01-03T08:00","v":13500},{"t":"2015-01-03T10:00","v":17000},{"t":"2015-01-03T13:00","v":20500},{"t":"2015-01-03T16:00","v":15000},{"t":"2015-01-03T20:00","v":16800},
{"t":"2015-01-04T04:00","v":2500},{"t":"2015-01-04T08:00","v":14000},{"t":"2015-01-04T10:00","v":17500},{"t":"2015-01-04T13:00","v":21500},{"t":"2015-01-04T16:00","v":15500},{"t":"2015-01-04T20:00","v":17300},
{"t":"2015-01-05T04:00","v":2200},{"t":"2015-01-05T08:00","v":16000},{"t":"2015-01-05T10:00","v":19500},{"t":"2015-01-05T13:00","v":24000},{"t":"2015-01-05T16:00","v":17000},{"t":"2015-01-05T20:00","v":18800},
{"t":"2015-01-06T04:00","v":2600},{"t":"2015-01-06T08:00","v":16500},{"t":"2015-01-06T10:00","v":20000},{"t":"2015-01-06T13:00","v":26000},{"t":"2015-01-06T16:00","v":17500},{"t":"2015-01-06T20:00","v":19300},
{"t":"2015-01-07T04:00","v":2800},{"t":"2015-01-07T08:00","v":17000},{"t":"2015-01-07T10:00","v":20500},{"t":"2015-01-07T13:00","v":25500},{"t":"2015-01-07T16:00","v":18000},{"t":"2015-01-07T20:00","v":19800},
{"t":"2015-01-08T04:00","v":2300},{"t":"2015-01-08T08:00","v":16500},{"t":"2015-01-08T10:00","v":20000},{"t":"2015-01-08T13:00","v":26500},{"t":"2015-01-08T16:00","v":17500},{"t":"2015-01-08T20:00","v":19300},
{"t":"2015-01-09T04:00","v":2700},{"t":"2015-01-09T08:00","v":17000},{"t":"2015-01-09T10:00","v":20500},{"t":"2015-01-09T13:00","v":28000},{"t":"2015-01-09T16:00","v":18000},{"t":"2015-01-09T20:00","v":19800},
{"t":"2015-01-10T04:00","v":3100},{"t":"2015-01-10T08:00","v":15500},{"t":"2015-01-10T10:00","v":19000},{"t":"2015-01-10T13:00","v":28200},{"t":"2015-01-10T16:00","v":16500},{"t":"2015-01-10T20:00","v":18300},
{"t":"2015-01-11T04:00","v":2900},{"t":"2015-01-11T08:00","v":16000},{"t":"2015-01-11T10:00","v":19500},{"t":"2015-01-11T13:00","v":24000},{"t":"2015-01-11T16:00","v":17500},{"t":"2015-01-11T20:00","v":19300},
{"t":"2015-01-12T04:00","v":2000},{"t":"2015-01-12T08:00","v":16500},{"t":"2015-01-12T10:00","v":20000},{"t":"2015-01-12T13:00","v":25500},{"t":"2015-01-12T16:00","v":17500},{"t":"2015-01-12T20:00","v":19300},
{"t":"2015-01-13T04:00","v":2300},{"t":"2015-01-13T08:00","v":17000},{"t":"2015-01-13T10:00","v":20500},{"t":"2015-01-13T13:00","v":26000},{"t":"2015-01-13T16:00","v":18000},{"t":"2015-01-13T20:00","v":19800},
{"t":"2015-01-14T04:00","v":2100},{"t":"2015-01-14T08:00","v":16500},{"t":"2015-01-14T10:00","v":20000},{"t":"2015-01-14T13:00","v":26500},{"t":"2015-01-14T16:00","v":17500},{"t":"2015-01-14T20:00","v":19300},
{"t":"2015-01-15T04:00","v":2500},{"t":"2015-01-15T08:00","v":16000},{"t":"2015-01-15T10:00","v":19500},{"t":"2015-01-15T13:00","v":25500},{"t":"2015-01-15T16:00","v":17000},{"t":"2015-01-15T20:00","v":18800},
{"t":"2015-01-16T04:00","v":2700},{"t":"2015-01-16T08:00","v":15000},{"t":"2015-01-16T10:00","v":18500},{"t":"2015-01-16T13:00","v":24000},{"t":"2015-01-16T16:00","v":16000},{"t":"2015-01-16T20:00","v":17800},
{"t":"2015-01-17T04:00","v":3200},{"t":"2015-01-17T08:00","v":13000},{"t":"2015-01-17T10:00","v":16500},{"t":"2015-01-17T13:00","v":21000},{"t":"2015-01-17T16:00","v":14500},{"t":"2015-01-17T20:00","v":16300},
{"t":"2015-01-18T04:00","v":2800},{"t":"2015-01-18T08:00","v":14000},{"t":"2015-01-18T10:00","v":17500},{"t":"2015-01-18T13:00","v":22000},{"t":"2015-01-18T16:00","v":15500},{"t":"2015-01-18T20:00","v":17300},
{"t":"2015-01-19T04:00","v":2200},{"t":"2015-01-19T08:00","v":15000},{"t":"2015-01-19T10:00","v":18500},{"t":"2015-01-19T13:00","v":23000},{"t":"2015-01-19T16:00","v":16000},{"t":"2015-01-19T20:00","v":17800},
{"t":"2015-01-20T04:00","v":2400},{"t":"2015-01-20T08:00","v":16500},{"t":"2015-01-20T10:00","v":20000},{"t":"2015-01-20T13:00","v":26000},{"t":"2015-01-20T16:00","v":17500},{"t":"2015-01-20T20:00","v":19300},
{"t":"2015-01-21T04:00","v":2100},{"t":"2015-01-21T08:00","v":17000},{"t":"2015-01-21T10:00","v":20500},{"t":"2015-01-21T13:00","v":26500},{"t":"2015-01-21T16:00","v":18000},{"t":"2015-01-21T20:00","v":19800},
{"t":"2015-01-22T04:00","v":2500},{"t":"2015-01-22T08:00","v":16500},{"t":"2015-01-22T10:00","v":20000},{"t":"2015-01-22T13:00","v":25500},{"t":"2015-01-22T16:00","v":17500},{"t":"2015-01-22T20:00","v":19300},
{"t":"2015-01-23T04:00","v":2800},{"t":"2015-01-23T08:00","v":15500},{"t":"2015-01-23T10:00","v":19000},{"t":"2015-01-23T13:00","v":24000},{"t":"2015-01-23T16:00","v":16500},{"t":"2015-01-23T20:00","v":18300},
{"t":"2015-01-24T04:00","v":3100},{"t":"2015-01-24T08:00","v":13500},{"t":"2015-01-24T10:00","v":17000},{"t":"2015-01-24T13:00","v":21000},{"t":"2015-01-24T16:00","v":15000},{"t":"2015-01-24T20:00","v":16800},
{"t":"2015-01-25T04:00","v":2700},{"t":"2015-01-25T08:00","v":14500},{"t":"2015-01-25T10:00","v":18000},{"t":"2015-01-25T13:00","v":22000},{"t":"2015-01-25T16:00","v":16000},{"t":"2015-01-25T20:00","v":17800},
{"t":"2015-01-26T04:00","v":1500},{"t":"2015-01-26T08:00","v":12500},{"t":"2015-01-26T10:00","v":16000},{"t":"2015-01-26T13:00","v":19000},{"t":"2015-01-26T16:00","v":14000},{"t":"2015-01-26T20:00","v":15800},
{"t":"2015-01-27T04:00","v":150},{"t":"2015-01-27T08:00","v":11500},{"t":"2015-01-27T10:00","v":15000},{"t":"2015-01-27T13:00","v":18500},{"t":"2015-01-27T16:00","v":13500},{"t":"2015-01-27T20:00","v":15300},
{"t":"2015-01-28T04:00","v":2200},{"t":"2015-01-28T08:00","v":15000},{"t":"2015-01-28T10:00","v":18500},{"t":"2015-01-28T13:00","v":22500},{"t":"2015-01-28T16:00","v":16500},{"t":"2015-01-28T20:00","v":18300},
{"t":"2015-01-29T04:00","v":2600},{"t":"2015-01-29T08:00","v":17000},{"t":"2015-01-29T10:00","v":20500},{"t":"2015-01-29T13:00","v":26000},{"t":"2015-01-29T16:00","v":18000},{"t":"2015-01-29T20:00","v":19800},
{"t":"2015-01-30T04:00","v":2400},{"t":"2015-01-30T08:00","v":17500},{"t":"2015-01-30T10:00","v":21000},{"t":"2015-01-30T13:00","v":27500},{"t":"2015-01-30T16:00","v":18500},{"t":"2015-01-30T20:00","v":20300},
{"t":"2015-01-31T04:00","v":2800},{"t":"2015-01-31T08:00","v":18000},{"t":"2015-01-31T10:00","v":21500},{"t":"2015-01-31T13:00","v":28800},{"t":"2015-01-31T16:00","v":19500},{"t":"2015-01-31T20:00","v":21300},
{"t":"2015-01-31T23:00","v":20000}],
"anom":[
{"t":"2014-07-11T08:00","v":17500},{"t":"2014-07-11T10:00","v":19700},
{"t":"2014-07-12T08:00","v":19000},{"t":"2014-07-12T09:00","v":21700},{"t":"2014-07-12T10:00","v":23300},{"t":"2014-07-12T11:00","v":24800},{"t":"2014-07-12T12:00","v":25950},{"t":"2014-07-12T13:00","v":26850},
{"t":"2014-07-13T09:00","v":19470},{"t":"2014-07-13T10:00","v":21300},{"t":"2014-07-13T11:00","v":24000},{"t":"2014-07-13T12:00","v":25700},
{"t":"2014-09-01T10:00","v":6750},{"t":"2014-09-01T12:00","v":5800},{"t":"2014-09-01T14:00","v":5000},
{"t":"2014-09-07T03:00","v":30400},{"t":"2014-09-07T04:00","v":28450},
{"t":"2014-09-08T08:00","v":18600},{"t":"2014-09-08T09:00","v":17950},{"t":"2014-09-08T10:00","v":14850},{"t":"2014-09-08T11:00","v":11700},{"t":"2014-09-08T12:00","v":9500},{"t":"2014-09-08T13:00","v":7550},{"t":"2014-09-08T14:00","v":5500},{"t":"2014-09-08T15:00","v":4000},{"t":"2014-09-08T20:00","v":21500},
{"t":"2014-09-21T16:00","v":16300},{"t":"2014-09-21T17:00","v":15700},{"t":"2014-09-21T18:00","v":15200},{"t":"2014-09-21T19:00","v":14700},{"t":"2014-09-21T20:00","v":14200},{"t":"2014-09-21T21:00","v":13600},{"t":"2014-09-21T22:00","v":13000},{"t":"2014-09-21T23:00","v":11900},
{"t":"2014-10-19T20:00","v":10300},{"t":"2014-10-19T21:00","v":8200},{"t":"2014-10-19T22:00","v":6750},{"t":"2014-10-19T23:00","v":4600},{"t":"2014-10-20T01:00","v":3200},{"t":"2014-10-20T10:00","v":17900},
{"t":"2014-11-01T05:00","v":19900},{"t":"2014-11-01T06:00","v":17700},
{"t":"2014-11-02T01:00","v":39300},{"t":"2014-11-02T02:00","v":35200},{"t":"2014-11-02T03:00","v":13050},{"t":"2014-11-02T04:00","v":12000},{"t":"2014-11-02T05:00","v":9850},{"t":"2014-11-02T06:00","v":7700},{"t":"2014-11-02T09:00","v":19450},{"t":"2014-11-02T10:00","v":19100},{"t":"2014-11-02T17:00","v":4350},{"t":"2014-11-03T02:00","v":3200},
{"t":"2014-11-09T01:00","v":23700},{"t":"2014-11-09T02:00","v":22400},{"t":"2014-11-09T03:00","v":21050},
{"t":"2014-11-26T20:00","v":14400},{"t":"2014-11-27T04:00","v":12000},{"t":"2014-11-27T10:00","v":9600},{"t":"2014-11-27T13:00","v":8500},{"t":"2014-11-27T16:00","v":7500},{"t":"2014-11-27T19:00","v":6500},{"t":"2014-11-27T22:00","v":14100},{"t":"2014-11-27T23:00","v":13050},{"t":"2014-11-28T03:00","v":5600},{"t":"2014-11-28T06:00","v":5300},{"t":"2014-11-28T09:00","v":9000},{"t":"2014-11-28T14:00","v":8000},{"t":"2014-11-28T18:00","v":16100},{"t":"2014-11-29T05:00","v":16300},
{"t":"2014-12-04T05:00","v":21000},{"t":"2014-12-04T07:00","v":20000},{"t":"2014-12-04T09:00","v":19200},{"t":"2014-12-04T12:00","v":18400},{"t":"2014-12-04T14:00","v":23700},{"t":"2014-12-04T16:00","v":22400},{"t":"2014-12-04T18:00","v":16100},{"t":"2014-12-04T20:00","v":16500},{"t":"2014-12-05T03:00","v":20500},{"t":"2014-12-05T06:00","v":19000},{"t":"2014-12-06T12:00","v":26400},{"t":"2014-12-06T13:00","v":25200},{"t":"2014-12-06T14:00","v":23300},
{"t":"2014-12-24T10:00","v":9950},{"t":"2014-12-24T21:00","v":13050},{"t":"2014-12-24T22:00","v":9050},{"t":"2014-12-25T01:00","v":7300},{"t":"2014-12-25T06:00","v":4200},{"t":"2014-12-25T08:00","v":8450},{"t":"2014-12-25T12:00","v":6400},{"t":"2014-12-25T17:00","v":5050},{"t":"2014-12-25T19:00","v":3300},{"t":"2014-12-26T01:00","v":11300},{"t":"2014-12-26T02:00","v":2850},{"t":"2014-12-26T07:00","v":7750},{"t":"2014-12-26T16:00","v":5950},{"t":"2014-12-26T18:00","v":13950},{"t":"2014-12-27T00:00","v":16600},{"t":"2014-12-27T01:00","v":15700},{"t":"2014-12-27T02:00","v":12200},
{"t":"2014-12-31T20:00","v":21050},{"t":"2014-12-31T21:00","v":21950},{"t":"2014-12-31T22:00","v":23300},{"t":"2014-12-31T23:00","v":24200},{"t":"2015-01-01T00:00","v":30400},{"t":"2015-01-01T01:00","v":29500},{"t":"2015-01-01T02:00","v":28200},{"t":"2015-01-01T03:00","v":26850},{"t":"2015-01-01T04:00","v":25500},{"t":"2015-01-01T06:00","v":18200},{"t":"2015-01-01T08:00","v":12600},
{"t":"2015-01-05T04:00","v":17250},{"t":"2015-01-05T06:00","v":17900},{"t":"2015-01-05T08:00","v":13500},{"t":"2015-01-05T21:00","v":14400},
{"t":"2015-01-07T00:00","v":8600},{"t":"2015-01-07T02:00","v":22400},{"t":"2015-01-07T04:00","v":6850},{"t":"2015-01-07T08:00","v":7300},{"t":"2015-01-07T09:00","v":5500},{"t":"2015-01-07T11:00","v":19600},{"t":"2015-01-07T12:00","v":18000},{"t":"2015-01-07T14:00","v":4000},{"t":"2015-01-07T15:00","v":20900},{"t":"2015-01-07T16:00","v":21000},{"t":"2015-01-07T19:00","v":2850},{"t":"2015-01-07T20:00","v":1950},
{"t":"2015-01-08T03:00","v":19900},{"t":"2015-01-08T12:00","v":16000},{"t":"2015-01-08T19:00","v":22100},{"t":"2015-01-09T01:00","v":23500},{"t":"2015-01-09T19:00","v":24200},{"t":"2015-01-09T20:00","v":17500},{"t":"2015-01-10T15:00","v":22400},{"t":"2015-01-10T22:00","v":28200},
{"t":"2015-01-19T05:00","v":8600},{"t":"2015-01-19T06:00","v":7300},
{"t":"2015-01-25T14:00","v":7300},{"t":"2015-01-25T21:00","v":8200},{"t":"2015-01-26T05:00","v":18850},{"t":"2015-01-26T06:00","v":13950},{"t":"2015-01-26T07:00","v":6850},{"t":"2015-01-26T19:00","v":17950},{"t":"2015-01-26T20:00","v":5500},{"t":"2015-01-26T22:00","v":2850},{"t":"2015-01-27T00:00","v":4600},{"t":"2015-01-27T02:00","v":1950},{"t":"2015-01-27T04:00","v":180},{"t":"2015-01-27T06:00","v":3000},{"t":"2015-01-27T09:00","v":3750},{"t":"2015-01-27T10:00","v":1070},{"t":"2015-01-27T12:00","v":5000}]
},
"vconcat":[
{
"width":675,"height":44,
"layer":[
{"data":{"name":"box"},"mark":{"type":"rect","fill":"#f7f7f7","stroke":"#cfcfcf","strokeWidth":1},
 "encoding":{"x":{"datum":-0.484,"type":"quantitative","scale":{"domain":[3.729,96.96],"nice":false,"zero":false},"axis":null},"x2":{"datum":96.82},
 "y":{"datum":0.294,"type":"quantitative","scale":{"domain":[0.294,2.882],"nice":false,"zero":false,"reverse":true},"axis":null},"y2":{"datum":2.882}}},
{"data":{"name":"cell1"},"transform":[{"filter":"datum.k !== 'kw'"}],"mark":{"type":"text","align":"left","baseline":"middle","font":"DejaVu Sans Mono","fontSize":12},
 "encoding":{"x":{"field":"col","type":"quantitative"},"y":{"field":"ln","type":"quantitative"},
 "color":{"field":"k","type":"nominal","scale":{"domain":["plain","kw","num","str","mod"],"range":["#333333","#008000","#008000","#ba2121","#0055aa"]},"legend":null},"text":{"field":"tok"}}},
{"data":{"name":"cell1"},"transform":[{"filter":"datum.k === 'kw'"}],"mark":{"type":"text","align":"left","baseline":"middle","font":"DejaVu Sans Mono","fontSize":12,"fontWeight":"bold"},
 "encoding":{"x":{"field":"col","type":"quantitative"},"y":{"field":"ln","type":"quantitative"},
 "color":{"field":"k","type":"nominal","legend":null},"text":{"field":"tok"}}}
]
},
{
"width":675,"height":105,
"layer":[
{"data":{"name":"box"},"mark":{"type":"rect","fill":"#f7f7f7","stroke":"#cfcfcf","strokeWidth":1},
 "encoding":{"x":{"datum":-0.484,"type":"quantitative","scale":{"domain":[3.729,96.96],"nice":false,"zero":false},"axis":null},"x2":{"datum":96.82},
 "y":{"datum":0.073,"type":"quantitative","scale":{"domain":[0.073,5.8],"nice":false,"zero":false,"reverse":true},"axis":null},"y2":{"datum":5.8}}},
{"data":{"name":"box"},"mark":{"type":"rect","fill":"#f1f1f1","strokeWidth":0},
 "encoding":{"x":{"datum":-0.42,"type":"quantitative"},"x2":{"datum":96.76},"y":{"datum":4.928,"type":"quantitative"},"y2":{"datum":5.692}}},
{"data":{"name":"box"},"mark":{"type":"rect","fill":"#c1c1c1","strokeWidth":0},
 "encoding":{"x":{"datum":1.38,"type":"quantitative"},"x2":{"datum":83.4},"y":{"datum":4.983,"type":"quantitative"},"y2":{"datum":5.637}}},
{"data":{"name":"box"},"mark":{"type":"text","text":"◂","color":"#a3a3a3","fontSize":9,"align":"center","baseline":"middle","font":"DejaVu Sans"},
 "encoding":{"x":{"datum":0.14,"type":"quantitative"},"y":{"datum":5.31,"type":"quantitative"}}},
{"data":{"name":"box"},"mark":{"type":"text","text":"▸","color":"#a3a3a3","fontSize":9,"align":"center","baseline":"middle","font":"DejaVu Sans"},
 "encoding":{"x":{"datum":95.9,"type":"quantitative"},"y":{"datum":5.31,"type":"quantitative"}}},
{"data":{"name":"cell2"},"transform":[{"filter":"datum.k !== 'kw'"}],"mark":{"type":"text","align":"left","baseline":"middle","font":"DejaVu Sans Mono","fontSize":12},
 "encoding":{"x":{"field":"col","type":"quantitative"},"y":{"field":"ln","type":"quantitative"},
 "color":{"field":"k","type":"nominal","scale":{"domain":["plain","kw","num","str","mod"],"range":["#333333","#008000","#008000","#ba2121","#0055aa"]},"legend":null},"text":{"field":"tok"}}},
{"data":{"name":"cell2"},"transform":[{"filter":"datum.k === 'kw'"}],"mark":{"type":"text","align":"left","baseline":"middle","font":"DejaVu Sans Mono","fontSize":12,"fontWeight":"bold"},
 "encoding":{"x":{"field":"col","type":"quantitative"},"y":{"field":"ln","type":"quantitative"},
 "color":{"field":"k","type":"nominal","legend":null},"text":{"field":"tok"}}}
]
},
{
"width":666,"height":163,
"view":{"fill":"white","stroke":"#cccccc"},
"title":{"text":"CSDN @夏咸鱼","orient":"bottom","anchor":"end","offset":-14,"dx":-3,"fontSize":14.5,"font":"Noto Sans CJK SC","fontWeight":"normal","color":"rgba(100,100,100,0.65)"},
"encoding":{
"x":{"field":"t","type":"temporal","scale":{"domain":[{"year":2014,"month":6,"date":20,"hours":6},{"year":2015,"month":2,"date":11,"hours":17}],"nice":false},
 "axis":{"title":null,"format":"%Y-%m","tickCount":{"interval":"month","step":1},"labelFont":"DejaVu Sans","labelFontSize":6.7,"labelColor":"#333333","labelPadding":2,"ticks":false,"tickSize":0,"domain":false,"grid":true,"gridColor":"#dddddd","labelFlush":false,"labelOverlap":false}},
"y":{"field":"v","type":"quantitative","scale":{"domain":[-2100,41300],"nice":false,"zero":false},
 "axis":{"title":null,"values":[0,5000,10000,15000,20000,25000,30000,35000,40000],"format":"d","labelFont":"DejaVu Sans","labelFontSize":6.7,"labelColor":"#333333","labelPadding":3,"ticks":false,"tickSize":0,"domain":false,"grid":true,"gridColor":"#dddddd","minExtent":31,"maxExtent":31}}
},
"layer":[
{"data":{"name":"traffic"},"mark":{"type":"line","strokeWidth":0.8,"opacity":0.7},
 "encoding":{"color":{"datum":"Traffic","scale":{"domain":["Traffic"],"range":["#1f77b4"]},
 "legend":{"title":null,"orient":"none","legendX":610,"legendY":6,"padding":0,"labelFont":"DejaVu Sans","labelFontSize":6.5,"labelColor":"#333333","symbolType":"stroke","symbolSize":196,"symbolStrokeWidth":1,"symbolOpacity":0.55,"clipHeight":9,"labelOffset":4.7}}}},
{"data":{"name":"anom"},"mark":{"type":"point","filled":true,"size":225,"color":"#ff0000","opacity":1,"strokeWidth":0},
 "encoding":{"shape":{"datum":"Anomaly","scale":{"domain":["Anomaly"],"range":["M-0.2,0A0.2,0.2 0 1,0 0.2,0A0.2,0.2 0 1,0 -0.2,0Z"]},
 "legend":{"title":null,"orient":"none","legendX":610,"legendY":17,"padding":0,"labelFont":"DejaVu Sans","labelFontSize":6.5,"labelColor":"#333333","symbolSize":196,"symbolFillColor":"#ff0000","symbolStrokeWidth":0,"symbolOpacity":1,"clipHeight":9,"labelOffset":4.7}}}}
]
}
]
}
